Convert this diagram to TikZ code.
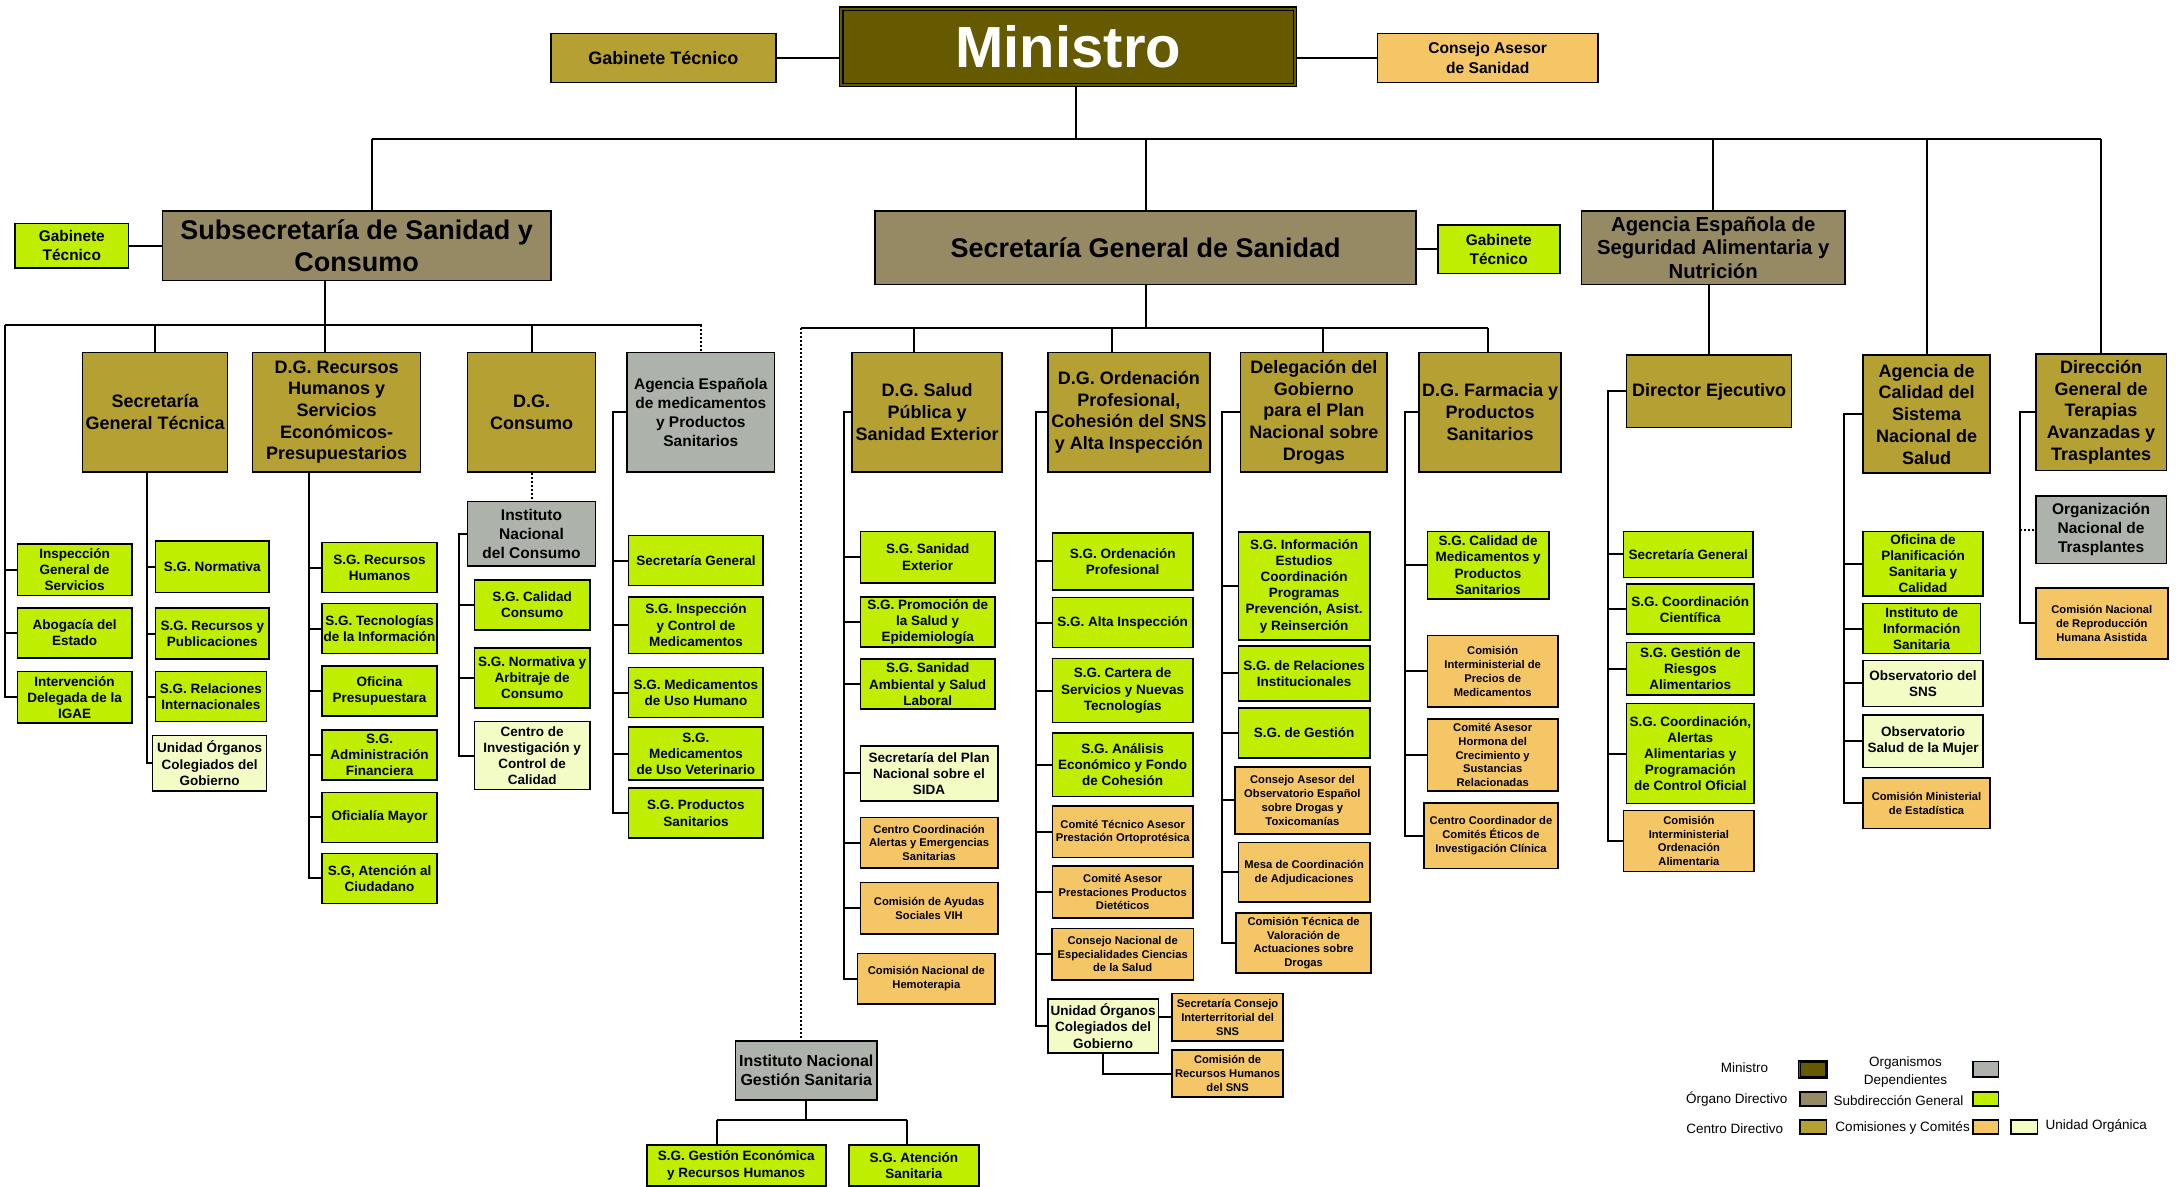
\documentclass[tikz,border=0pt]{standalone}
\usepackage{fontspec}
\setmainfont{Liberation Sans}
\definecolor{cMin}{HTML}{665A00}
\definecolor{cOrg}{HTML}{968A64}
\definecolor{cCen}{HTML}{B5A033}
\definecolor{cDep}{HTML}{ADB3AB}
\definecolor{cSub}{HTML}{C0EE00}
\definecolor{cCom}{HTML}{F5C665}
\definecolor{cUni}{HTML}{F4FCC5}
\tikzset{
 bb/.style n args={4}{minimum width={(#3-#1)*1.3878pt},minimum height={(#4-#2)*1.3878pt},at={(#1/2+#3/2,#2/2+#4/2)}},
 bx/.style={draw=black,line width=1.6pt,inner sep=0pt,align=center,text=black},
 sgbox/.style={bx,fill=cSub,font=\bfseries\fontsize{13.5}{16.2}\selectfont},
 unbox/.style={bx,fill=cUni,font=\bfseries\fontsize{13.5}{16.2}\selectfont},
 combox/.style={bx,fill=cCom,font=\bfseries\fontsize{11.2}{13.8}\selectfont},
 cdbox/.style={bx,fill=cCen,font=\bfseries\fontsize{18}{21.7}\selectfont},
 odbox/.style={bx,fill=cOrg},
 dpbox/.style={bx,fill=cDep,font=\bfseries\fontsize{15.5}{19}\selectfont},
 lnk/.style={line width=2pt,black},
 dtk/.style={line width=2pt,black,dash pattern=on 2pt off 2pt},
 lgtxt/.style={font=\fontsize{13.5}{18}\selectfont,inner sep=0pt,align=center},
 swbox/.style={draw=black,line width=1.4pt,inner sep=0pt},
}
\begin{document}
\begin{tikzpicture}[x=1.3878pt,y=-1.3878pt]
\useasboundingbox[fill=white] (0,0) rectangle (1568,855);

% ---------- top level
\node[cdbox,bb={397}{24}{559}{59.5}] (gabM) {Gabinete Técnico};
\node[bx,fill=cMin,text=white,line width=1.2pt,bb={605}{5}{934.5}{62.5},font=\bfseries\fontsize{58}{60}\selectfont] (min) {Ministro};
\draw[line width=1.2pt] ([shift={(4pt,-4pt)}]min.north west) rectangle ([shift={(-4pt,4pt)}]min.south east);
\node[bx,fill=cCom,bb={992.5}{24}{1151.5}{59.5},font=\bfseries\fontsize{15.6}{19.3}\selectfont] (cons) {Consejo Asesor\\de Sanidad};
\node[bx,fill=cSub,bb={11}{161}{92.5}{193},font=\bfseries\fontsize{15.4}{19}\selectfont] (gabS) {Gabinete\\Técnico};
\node[odbox,bb={117}{152}{397}{202},font=\bfseries\fontsize{27}{31.7}\selectfont] (subs) {Subsecretaría de Sanidad y\\Consumo};
\node[odbox,bb={630.5}{152}{1020.5}{205},font=\bfseries\fontsize{27}{31.7}\selectfont] (sgs) {Secretaría General de Sanidad};
\node[bx,fill=cSub,bb={1036}{162}{1124}{197},font=\bfseries\fontsize{15.4}{19}\selectfont] (gabG) {Gabinete\\Técnico};
\node[odbox,bb={1139.5}{152}{1329.5}{205},font=\bfseries\fontsize{20.3}{23.3}\selectfont] (aesan) {Agencia Española de\\Seguridad Alimentaria y\\Nutrición};

% ---------- level 2
\node[cdbox,bb={59.5}{254}{164}{340}] (sgt) {Secretaría\\General Técnica};
\node[cdbox,bb={182}{254}{303}{340}] (dgrh) {D.G. Recursos\\Humanos y\\Servicios\\Económicos-\\Presupuestarios};
\node[cdbox,bb={337}{254}{429}{340}] (dgc) {D.G.\\Consumo};
\node[dpbox,bb={452}{254}{558}{340}] (aemps) {Agencia Española\\de medicamentos\\y Productos\\Sanitarios};
\node[cdbox,bb={614}{254}{722}{340}] (dgsp) {D.G. Salud\\Pública  y\\Sanidad Exterior};
\node[cdbox,bb={755}{254}{872}{340}] (dgop) {D.G. Ordenación\\Profesional,\\Cohesión del SNS\\y Alta Inspección};
\node[cdbox,bb={894}{254}{999.5}{340}] (deleg) {Delegación del\\Gobierno\\para el Plan\\Nacional sobre\\Drogas};
\node[cdbox,bb={1022.5}{254}{1125}{340}] (dgf) {D.G. Farmacia y\\Productos\\Sanitarios};
\node[cdbox,bb={1172}{256}{1291}{308}] (dirE) {Director Ejecutivo};
\node[cdbox,bb={1342.5}{256}{1434}{341}] (agcal) {Agencia de\\Calidad del\\Sistema\\Nacional de\\Salud};
\node[cdbox,bb={1467}{255}{1561}{339}] (dgter) {Dirección\\General de\\Terapias\\Avanzadas y\\Trasplantes};

% ---------- Subsecretaría children
\node[sgbox,bb={12.5}{392}{95}{429}] (igs) {Inspección\\General de\\Servicios};
\node[sgbox,bb={12.5}{438}{95}{474}] (abog) {Abogacía del\\Estado};
\node[sgbox,bb={12.5}{484}{95}{521}] (interv) {Intervención\\Delegada de la\\IGAE};
\node[sgbox,bb={112}{390}{194}{427}] (sgnorm) {S.G. Normativa};
\node[sgbox,bb={112}{438}{194}{475}] (sgrp) {S.G. Recursos y\\Publicaciones};
\node[sgbox,bb={112}{484}{192}{520}] (sgri) {S.G. Relaciones\\Internacionales};
\node[unbox,bb={110}{530}{192}{570}] (uocg1) {Unidad Órganos\\Colegiados del\\Gobierno};
\node[sgbox,bb={232}{391}{315}{427}] (sgrh) {S.G. Recursos\\Humanos};
\node[sgbox,bb={232}{435}{315}{471}] (sgti) {S.G. Tecnologías\\de la Información};
\node[sgbox,bb={232}{480}{315}{516}] (ofp) {Oficina\\Presupuestara};
\node[sgbox,bb={232}{526}{315}{562}] (sgaf) {S.G.\\Administración\\Financiera};
\node[sgbox,bb={232}{571}{315}{607}] (ofm) {Oficialía Mayor};
\node[sgbox,bb={232}{615}{315}{651}] (sgac) {S.G, Atención al\\Ciudadano};
\node[dpbox,bb={337}{361.5}{429}{408}] (inc) {Instituto\\Nacional\\del Consumo};
\node[sgbox,bb={342}{418}{425}{454}] (sgcc) {S.G. Calidad\\Consumo};
\node[sgbox,bb={342}{467}{425}{510}] (sgnac) {S.G. Normativa y\\Arbitraje de\\Consumo};
\node[unbox,bb={342}{520}{425}{569}] (cicc) {Centro de\\Investigación y\\Control de\\Calidad};
\node[sgbox,bb={453}{386}{550}{422}] (aesg) {Secretaría General};
\node[sgbox,bb={453}{430}{550}{471}] (sgicm) {S.G. Inspección\\y Control de\\Medicamentos};
\node[sgbox,bb={453}{481}{550}{517}] (sgmuh) {S.G. Medicamentos\\de Uso Humano};
\node[sgbox,bb={453}{524}{550}{562}] (sgmuv) {S.G.\\Medicamentos\\de Uso Veterinario};
\node[sgbox,bb={453}{568}{550}{604}] (sgps) {S.G. Productos\\Sanitarios};

% ---------- Secretaría General de Sanidad children
\node[sgbox,bb={620}{383}{717}{420}] (sgse) {S.G. Sanidad\\Exterior};
\node[sgbox,bb={620}{430}{717}{466}] (sgpse) {S.G. Promoción de\\la Salud y\\Epidemiología};
\node[sgbox,bb={620}{475}{717}{511}] (sgsasl) {S.G. Sanidad\\Ambiental y Salud\\Laboral};
\node[unbox,bb={620}{537.5}{719}{577}] (spns) {Secretaría del Plan\\Nacional sobre el\\SIDA};
\node[combox,bb={620}{589}{719}{625.6}] (ccaes) {Centro  Coordinación\\Alertas y Emergencias\\Sanitarias};
\node[combox,bb={620}{636}{719}{673}] (casv) {Comisión de Ayudas\\Sociales VIH};
\node[combox,bb={618}{687}{717}{723.5}] (cnh) {Comisión Nacional de\\Hemoterapia};

\node[sgbox,bb={758.4}{384}{859.6}{425}] (sgop) {S.G. Ordenación\\Profesional};
\node[sgbox,bb={758.4}{430.6}{859.6}{466.7}] (sgai) {S.G. Alta Inspección};
\node[sgbox,bb={758.4}{474.6}{859.6}{520.7}] (sgcsnt) {S.G. Cartera de\\Servicios y Nuevas\\Tecnologías};
\node[sgbox,bb={758.4}{528}{859.6}{574}] (sgaefc) {S.G. Análisis\\Económico y Fondo\\de Cohesión};
\node[combox,bb={758.4}{581}{859.6}{618}] (ctapo) {Comité Técnico Asesor\\Prestación Ortoprotésica};
\node[combox,bb={758.4}{624}{859.6}{661.6}] (capd) {Comité Asesor\\Prestaciones Productos\\Dietéticos};
\node[combox,bb={758}{669}{860}{706}] (cnecs) {Consejo Nacional de\\Especialidades Ciencias\\de la Salud};
\node[unbox,bb={755}{720}{834.7}{758.7}] (uocg2) {Unidad Órganos\\Colegiados del\\Gobierno};
\node[combox,bb={844.5}{716}{924.7}{750}] (scisns) {Secretaría Consejo\\Interterritorial del\\SNS};
\node[combox,bb={844.5}{756.6}{924.7}{790.5}] (crhsns) {Comisión de\\Recursos Humanos\\del SNS};

\node[sgbox,bb={892.5}{383.5}{987}{461}] (sgie) {S.G. Información\\Estudios\\Coordinación\\Programas\\Prevención, Asist.\\y Reinserción};
\node[sgbox,bb={892.5}{465.5}{987}{505}] (sgrinst) {S.G. de Relaciones\\Institucionales};
\node[sgbox,bb={892.5}{510}{987}{546}] (sgg) {S.G. de Gestión};
\node[combox,bb={890}{552.5}{987}{601}] (caoed) {Consejo Asesor del\\Observatorio Español\\sobre Drogas y\\Toxicomanías};
\node[combox,bb={892.5}{607}{987}{650}] (mcadj) {Mesa de Coordinación\\de Adjudicaciones};
\node[combox,bb={890.7}{658}{988}{701}] (ctvad) {Comisión Técnica de\\Valoración de\\Actuaciones sobre\\Drogas};

\node[sgbox,bb={1028.5}{383}{1116}{431.6}] (sgcmps) {S.G. Calidad de\\Medicamentos y\\Productos\\Sanitarios};
\node[combox,bb={1028.5}{458}{1122.7}{509.6}] (cipm) {Comisión\\Interministerial de\\Precios de\\Medicamentos};
\node[combox,bb={1028.5}{518}{1122.7}{570}] (cahc) {Comité Asesor\\Hormona del\\Crecimiento y\\Sustancias\\Relacionadas};
\node[combox,bb={1026}{578.6}{1122.7}{625.8}] (cccei) {Centro Coordinador de\\Comités Éticos de\\Investigación Clínica};

% ---------- AESAN children
\node[sgbox,bb={1170}{383}{1263}{416}] (aesg2) {Secretaría General};
\node[sgbox,bb={1172}{421}{1264}{457}] (sgccie) {S.G. Coordinación\\Científica};
\node[sgbox,bb={1172}{463}{1264}{501}] (sgra) {S.G. Gestión de\\Riesgos\\Alimentarios};
\node[sgbox,bb={1172}{507}{1264}{579}] (sgcaa) {S.G. Coordinación,\\Alertas\\Alimentarias y\\Programación\\de Control Oficial};
\node[combox,bb={1170}{584}{1264}{628}] (cioa) {Comisión\\Interministerial\\Ordenación\\Alimentaria};

% ---------- Agencia de Calidad children
\node[sgbox,bb={1342.5}{383}{1429}{429.5}] (opsc) {Oficina de\\Planificación\\Sanitaria y\\Calidad};
\node[sgbox,bb={1342.5}{435}{1427}{471}] (iis) {Instituto de\\Información\\Sanitaria};
\node[unbox,bb={1342.5}{476}{1429}{509}] (osns) {Observatorio del\\SNS};
\node[unbox,bb={1342.5}{515}{1429}{553}] (osm) {Observatorio\\Salud de la Mujer};
\node[combox,bb={1342.5}{560.7}{1434}{597}] (cme) {Comisión Ministerial\\de Estadística};

% ---------- Terapias children
\node[dpbox,bb={1467}{357.6}{1561}{406}] (ont) {Organización\\Nacional de\\Trasplantes};
\node[combox,bb={1467}{423.5}{1562}{475}] (cnrha) {Comisión Nacional\\de Reproducción\\Humana Asistida};

% ---------- INGESA
\node[dpbox,bb={530}{750}{632}{792.6},font=\bfseries\fontsize{16}{19}\selectfont] (ingesa) {Instituto Nacional\\Gestión Sanitaria};
\node[sgbox,bb={466}{825}{595}{854.6}] (sgge) {S.G. Gestión Económica\\y Recursos Humanos};
\node[sgbox,bb={611.7}{825}{705.4}{854.6}] (sgas) {S.G. Atención\\Sanitaria};

% ================= connectors
\draw[lnk] (gabM.east) -- (gabM.east -| min.west);
\draw[lnk] (cons.west) -- (cons.west -| min.east);
\coordinate (mx) at (775,100);
\coordinate (tL) at (268,100);
\coordinate (tR) at (1514,100);
\draw[lnk] (min.south -| mx) -- (mx);
\draw[lnk] (tL) -- (tR);
\draw[lnk] (tL) -- (tL |- subs.north);
\draw[lnk] (sgs.north |- tL) -- (sgs.north);
\draw[lnk] (aesan.north |- tL) -- (aesan.north);
\draw[lnk] (agcal.north |- tL) -- (agcal.north);
\draw[lnk] (dgter.north |- tL) -- (dgter.north);
\draw[lnk] (gabS.east) -- (gabS.east -| subs.west);
\draw[lnk] (gabG.west) -- (gabG.west -| sgs.east);

% Subsecretaría bus
\coordinate (sB) at (234,234);
\coordinate (sL) at (3.6,234);
\coordinate (sR) at (506,234);
\draw[lnk] (subs.south -| sB) -- (sB);
\draw[lnk] (sL) -- (sR);
\draw[dtk] (aemps.north |- sR) -- (aemps.north);
\draw[lnk] (sL) |- (igs.west);
\draw[lnk] (sL) |- (abog.west);
\draw[lnk] (sL) |- (interv.west);
\draw[lnk] (sgt.north |- sL) -- (sgt.north);
\draw[lnk] (sB) -- (sB |- dgrh.north);
\draw[lnk] (dgc.north |- sL) -- (dgc.north);

\coordinate (c1) at (106,0);
\foreach \n in {sgnorm,sgrp,sgri,uocg1} \draw[lnk] (sgt.south -| c1) |- (\n.west);
\coordinate (c2) at (222.6,0);
\foreach \n in {sgrh,sgti,ofp,sgaf,ofm,sgac} \draw[lnk] (dgrh.south -| c2) |- (\n.west);
\draw[dtk] (dgc.south) -- (inc.north);
\coordinate (c3) at (330.6,0);
\foreach \n in {sgcc,sgnac,cicc} \draw[lnk] (inc.west) -| (c3 |- \n.west) -- (\n.west);
\coordinate (c4) at (442,0);
\foreach \n in {aesg,sgicm,sgmuh,sgmuv,sgps} \draw[lnk] (aemps.west) -| (c4 |- \n.west) -- (\n.west);

% Secretaría General de Sanidad bus
\coordinate (gL) at (577.5,236);
\coordinate (gR) at (1072,236);
\coordinate (g1) at (658.6,236);
\coordinate (g2) at (801,236);
\coordinate (g3) at (953,236);
\draw[lnk] (sgs.south) -- (sgs.south |- gL);
\draw[lnk] (gL) -- (gR);
\draw[lnk] (gR) -- (gR |- dgf.north);
\draw[lnk] (g1) -- (g1 |- dgsp.north);
\draw[lnk] (g2) -- (g2 |- dgop.north);
\draw[lnk] (g3) -- (g3 |- deleg.north);
\draw[dtk] (gL) -- (gL |- ingesa.north);

\coordinate (c5) at (608,0);
\foreach \n in {sgse,sgpse,sgsasl,spns,ccaes,casv,cnh} \draw[lnk] (dgsp.west) -| (c5 |- \n.west) -- (\n.west);
\coordinate (c6) at (746.5,0);
\foreach \n in {sgop,sgai,sgcsnt,sgaefc,ctapo,capd,cnecs,uocg2} \draw[lnk] (dgop.west) -| (c6 |- \n.west) -- (\n.west);
\draw[lnk] (uocg2.east |- scisns.west) -- (scisns.west);
\draw[lnk] (uocg2.south) |- (crhsns.west);
\coordinate (c7) at (880.5,0);
\foreach \n in {sgie,sgrinst,sgg,caoed,mcadj,ctvad} \draw[lnk] (deleg.west) -| (c7 |- \n.west) -- (\n.west);
\coordinate (c8) at (1012.6,0);
\foreach \n in {sgcmps,cipm,cahc,cccei} \draw[lnk] (dgf.west) -| (c8 |- \n.west) -- (\n.west);

% AESAN
\draw[lnk] (dirE.north |- aesan.south) -- (dirE.north);
\coordinate (c9) at (1159,0);
\foreach \n in {aesg2,sgccie,sgra,sgcaa,cioa} \draw[lnk] (dirE.west) -| (c9 |- \n.west) -- (\n.west);
\coordinate (c10) at (1329,0);
\foreach \n in {opsc,iis,osns,osm,cme} \draw[lnk] (agcal.west) -| (c10 |- \n.west) -- (\n.west);
\coordinate (c11) at (1455.6,0);
\draw[lnk] (dgter.west) -| (c11 |- cnrha.west) -- (cnrha.west);
\draw[dtk] (c11 |- ont.west) -- (ont.west);

% INGESA
\coordinate (iB) at (581,807);
\coordinate (i1) at (517,807);
\coordinate (i2) at (653.3,807);
\draw[lnk] (ingesa.south) -- (ingesa.south |- iB);
\draw[lnk] (i1) -- (i2);
\draw[lnk] (i1) -- (i1 |- sgge.north);
\draw[lnk] (i2) -- (i2 |- sgas.north);

% ================= legend
\node[lgtxt] (tMin) at (1257,769.7) {Ministro};
\node[swbox,fill=cMin,bb={1296}{764.5}{1316.5}{776.8}] (lgMin) {};
\draw[line width=1pt] ([shift={(2.5pt,-2.5pt)}]lgMin.north west) rectangle ([shift={(-2.5pt,2.5pt)}]lgMin.south east);
\node[lgtxt] (tDep) at (1373,772.5) {Organismos\\Dependientes};
\node[swbox,fill=cDep,bb={1421.7}{765}{1440}{776}] (lgDep) {};
\node[lgtxt] (tOrg) at (1251.5,792) {Órgano Directivo};
\node[swbox,fill=cOrg,bb={1297}{787}{1316}{797}] (lgOrg) {};
\node[lgtxt] (tSub) at (1368,793.4) {Subdirección General};
\node[swbox,fill=cSub,bb={1421.7}{787}{1440}{797}] (lgSub) {};
\node[lgtxt] (tCen) at (1250,813) {Centro Directivo};
\node[swbox,fill=cCen,bb={1297}{807}{1316}{817}] (lgCen) {};
\node[lgtxt] (tCom) at (1371,813) {Comisiones y Comités};
\node[swbox,fill=cCom,bb={1421.7}{807}{1440}{817}] (lgCom) {};
\node[swbox,fill=cUni,bb={1449}{807}{1468}{817}] (lgUni) {};
\node[lgtxt] (tUni) at (1510.5,811) {Unidad Orgánica};
\end{tikzpicture}
\end{document}
